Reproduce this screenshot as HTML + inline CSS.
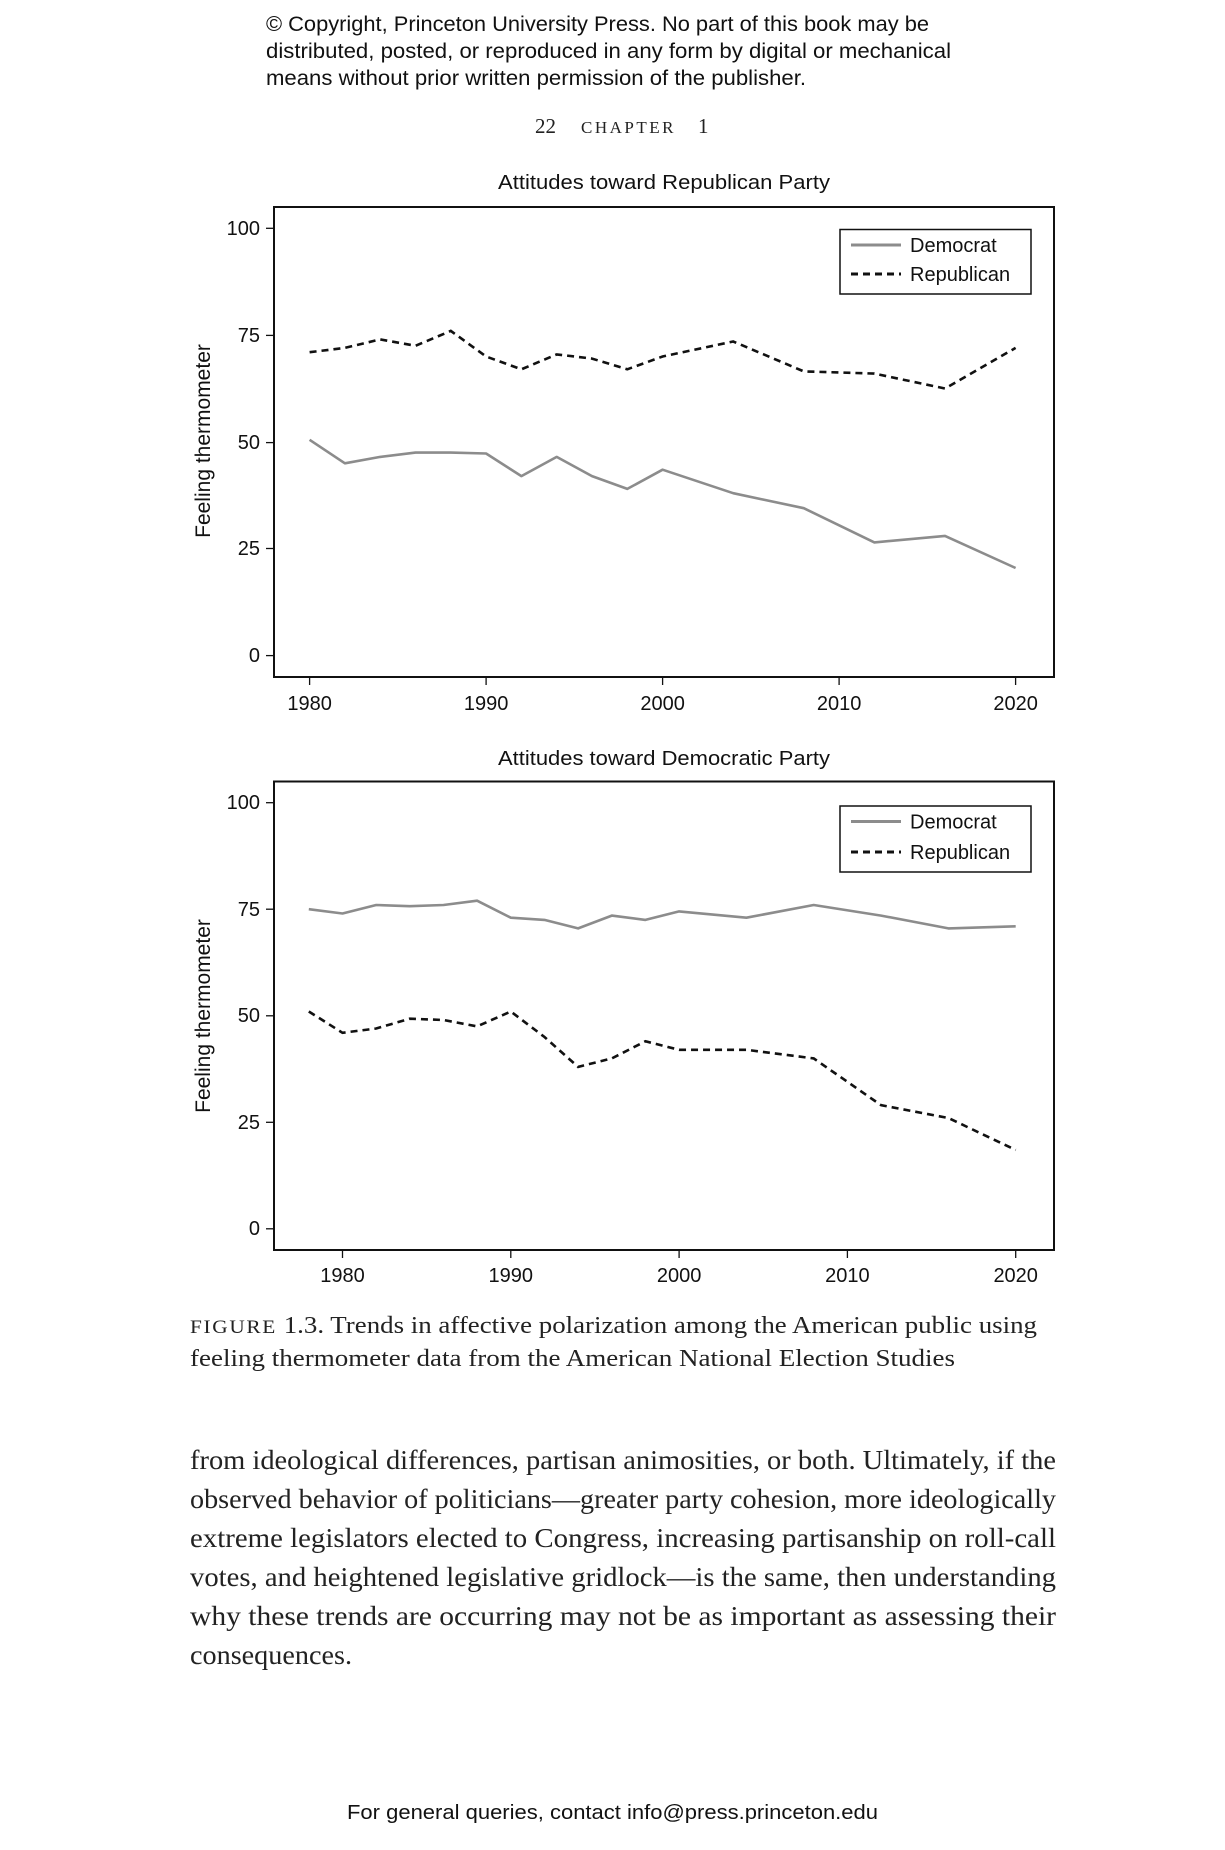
<!DOCTYPE html>
<html><head><meta charset="utf-8"><style>
html,body{margin:0;padding:0;background:#fff;}
svg{display:block;}
.s{font-family:"Liberation Sans",sans-serif;fill:#111;}
.r{font-family:"Liberation Serif",serif;fill:#222;}
</style></head><body>
<svg width="1225" height="1850" viewBox="0 0 1225 1850" xmlns="http://www.w3.org/2000/svg">
<rect width="1225" height="1850" fill="#fff"/>
<g class="s" font-size="21">
<text x="266" y="31" textLength="663" lengthAdjust="spacingAndGlyphs">© Copyright, Princeton University Press. No part of this book may be</text>
<text x="266" y="58" textLength="685" lengthAdjust="spacingAndGlyphs">distributed, posted, or reproduced in any form by digital or mechanical</text>
<text x="266" y="85" textLength="540" lengthAdjust="spacingAndGlyphs">means without prior written permission of the publisher.</text>
</g>
<text class="r" x="535" y="133" font-size="21">22</text>
<text class="r" x="581" y="133" font-size="17" letter-spacing="2.5">CHAPTER</text>
<text class="r" x="698" y="133" font-size="21">1</text>

<!-- Chart 1 -->
<text class="s" x="664" y="189" font-size="20" text-anchor="middle" textLength="332" lengthAdjust="spacingAndGlyphs">Attitudes toward Republican Party</text>
<rect x="274" y="207" width="780" height="470" fill="none" stroke="#111" stroke-width="2"/>
<g stroke="#111" stroke-width="1.3">
<line x1="266" y1="228.3" x2="274" y2="228.3"/><line x1="266" y1="335.4" x2="274" y2="335.4"/><line x1="266" y1="442.6" x2="274" y2="442.6"/><line x1="266" y1="548.5" x2="274" y2="548.5"/><line x1="266" y1="655.6" x2="274" y2="655.6"/>
<line x1="309.6" y1="677" x2="309.6" y2="685"/><line x1="486.1" y1="677" x2="486.1" y2="685"/><line x1="662.6" y1="677" x2="662.6" y2="685"/><line x1="839.1" y1="677" x2="839.1" y2="685"/><line x1="1015.6" y1="677" x2="1015.6" y2="685"/>
</g>
<g class="s" font-size="20" text-anchor="end">
<text x="260" y="235">100</text><text x="260" y="342">75</text><text x="260" y="449">50</text><text x="260" y="555">25</text><text x="260" y="662">0</text>
</g>
<g class="s" font-size="20" text-anchor="middle">
<text x="309.6" y="710">1980</text><text x="486.1" y="710">1990</text><text x="662.6" y="710">2000</text><text x="839.1" y="710">2010</text><text x="1015.6" y="710">2020</text>
</g>
<text class="s" font-size="21" text-anchor="middle" transform="translate(210,441) rotate(-90)">Feeling thermometer</text>
<polyline fill="none" stroke="#8c8c8c" stroke-width="2.6" stroke-linejoin="round" points="309.6,439.8 344.9,463.3 380.2,456.9 415.5,452.6 450.8,452.6 486.1,453.5 521.4,476.1 556.7,456.9 592.0,476.1 627.3,488.9 662.6,469.7 733.2,493.2 803.8,508.2 874.4,542.4 945.0,535.9 1015.6,568.0"/>
<polyline fill="none" stroke="#111" stroke-width="2.6" stroke-dasharray="7,5" points="309.6,352.2 344.9,347.9 380.2,339.4 415.5,345.8 450.8,330.9 486.1,356.5 521.4,369.3 556.7,354.4 592.0,358.6 627.3,369.3 662.6,356.5 733.2,341.5 803.8,371.4 874.4,373.6 945.0,388.5 1015.6,347.9"/>
<rect x="840" y="229.5" width="191" height="64.5" fill="#fff" stroke="#111" stroke-width="1.5"/>
<line x1="851" y1="245" x2="901" y2="245" stroke="#8c8c8c" stroke-width="3"/>
<line x1="851" y1="274" x2="901" y2="274" stroke="#111" stroke-width="3" stroke-dasharray="7,5"/>
<text class="s" x="910" y="252" font-size="20">Democrat</text>
<text class="s" x="910" y="281" font-size="20">Republican</text>

<!-- Chart 2 -->
<text class="s" x="664" y="765" font-size="20" text-anchor="middle" textLength="332" lengthAdjust="spacingAndGlyphs">Attitudes toward Democratic Party</text>
<rect x="274" y="781.5" width="780" height="468.5" fill="none" stroke="#111" stroke-width="2"/>
<g stroke="#111" stroke-width="1.3">
<line x1="266" y1="802.7" x2="274" y2="802.7"/><line x1="266" y1="909.2" x2="274" y2="909.2"/><line x1="266" y1="1015.8" x2="274" y2="1015.8"/><line x1="266" y1="1122.3" x2="274" y2="1122.3"/><line x1="266" y1="1228.8" x2="274" y2="1228.8"/>
<line x1="342.5" y1="1250" x2="342.5" y2="1258"/><line x1="510.8" y1="1250" x2="510.8" y2="1258"/><line x1="679.1" y1="1250" x2="679.1" y2="1258"/><line x1="847.4" y1="1250" x2="847.4" y2="1258"/><line x1="1015.7" y1="1250" x2="1015.7" y2="1258"/>
</g>
<g class="s" font-size="20" text-anchor="end">
<text x="260" y="809">100</text><text x="260" y="916">75</text><text x="260" y="1022">50</text><text x="260" y="1129">25</text><text x="260" y="1235">0</text>
</g>
<g class="s" font-size="20" text-anchor="middle">
<text x="342.5" y="1282">1980</text><text x="510.8" y="1282">1990</text><text x="679.1" y="1282">2000</text><text x="847.4" y="1282">2010</text><text x="1015.7" y="1282">2020</text>
</g>
<text class="s" font-size="21" text-anchor="middle" transform="translate(210,1016) rotate(-90)">Feeling thermometer</text>
<polyline fill="none" stroke="#8c8c8c" stroke-width="2.6" stroke-linejoin="round" points="308.8,909.2 342.5,913.5 376.2,905.0 409.8,906.2 443.5,905.0 477.1,900.7 510.8,917.7 544.5,919.9 578.1,928.4 611.8,915.6 645.4,919.9 679.1,911.4 746.4,917.7 813.7,905.0 881.1,915.6 948.4,928.4 1015.7,926.3"/>
<polyline fill="none" stroke="#111" stroke-width="2.6" stroke-dasharray="7,5" points="308.8,1011.5 342.5,1032.8 376.2,1028.5 409.8,1018.7 443.5,1020.0 477.1,1026.4 510.8,1011.5 544.5,1037.0 578.1,1066.9 611.8,1058.4 645.4,1041.3 679.1,1049.8 746.4,1049.8 813.7,1058.4 881.1,1105.2 948.4,1118.0 1015.7,1150.0"/>
<rect x="840" y="806" width="191" height="66" fill="#fff" stroke="#111" stroke-width="1.5"/>
<line x1="851" y1="821.5" x2="901" y2="821.5" stroke="#8c8c8c" stroke-width="3"/>
<line x1="851" y1="852" x2="901" y2="852" stroke="#111" stroke-width="3" stroke-dasharray="7,5"/>
<text class="s" x="910" y="828.5" font-size="20">Democrat</text>
<text class="s" x="910" y="859" font-size="20">Republican</text>

<!-- Caption -->
<text class="r" x="190" y="1333" font-size="24" textLength="847" lengthAdjust="spacingAndGlyphs"><tspan font-size="19" letter-spacing="1.5">FIGURE</tspan> 1.3. Trends in affective polarization among the American public using</text>
<text class="r" x="190" y="1366" font-size="24" textLength="765" lengthAdjust="spacingAndGlyphs">feeling thermometer data from the American National Election Studies</text>

<!-- Body -->
<g class="r" font-size="27">
<text x="190" y="1469" textLength="866" lengthAdjust="spacingAndGlyphs">from ideological differences, partisan animosities, or both. Ultimately, if the</text>
<text x="190" y="1508" textLength="866" lengthAdjust="spacingAndGlyphs">observed behavior of politicians—greater party cohesion, more ideologically</text>
<text x="190" y="1547" textLength="866" lengthAdjust="spacingAndGlyphs">extreme legislators elected to Congress, increasing partisanship on roll-call</text>
<text x="190" y="1586" textLength="866" lengthAdjust="spacingAndGlyphs">votes, and heightened legislative gridlock—is the same, then understanding</text>
<text x="190" y="1625" textLength="866" lengthAdjust="spacingAndGlyphs">why these trends are occurring may not be as important as assessing their</text>
<text x="190" y="1664" textLength="162" lengthAdjust="spacingAndGlyphs">consequences.</text>
</g>
<text class="s" x="347" y="1819" font-size="20" textLength="531" lengthAdjust="spacingAndGlyphs">For general queries, contact info@press.princeton.edu</text>
</svg>
</body></html>
